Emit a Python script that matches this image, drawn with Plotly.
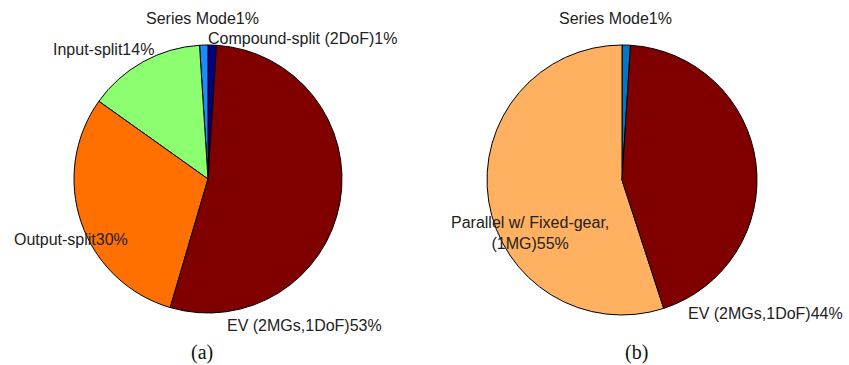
import plotly.graph_objects as go

W, H = 849, 365

# Mode shares, listed counterclockwise from 12 o'clock
modes_a = ["Compound-split (2DoF)", "Series Mode", "Input-split", "Output-split", "EV (2MGs,1DoF)"]
share_a = [1, 1, 14, 30, 53]
colors_a = ["#000088", "#1A8CFF", "#8CFF70", "#FF7000", "#800000"]

modes_b = ["Series Mode", "Parallel w/ Fixed-gear,<br>(1MG)", "EV (2MGs,1DoF)"]
share_b = [1, 55, 44]
colors_b = ["#0078C8", "#FFB060", "#800000"]

panel_titles = ["(a)", "(b)"]

# Label placement (pixel centers) for each slice
label_px_a = [(302, 38), (202, 18), (103, 49), (71, 239), (304, 325)]
label_px_b = [(615, 18), (530, 233), (765, 313)]
title_px = [(202, 352), (636, 352)]


def dom(cx, cy, r):
    return dict(x=[(cx - r) / W, (cx + r) / W], y=[(H - cy - r) / H, (H - cy + r) / H])


fig = go.Figure()
fig.add_trace(go.Pie(
    labels=modes_a, values=share_a, sort=False, direction="counterclockwise", rotation=0,
    marker=dict(colors=colors_a, line=dict(color="black", width=1)),
    textinfo="none", hoverinfo="label+percent", domain=dom(208, 179, 134), showlegend=False,
))
fig.add_trace(go.Pie(
    labels=modes_b, values=share_b, sort=False, direction="counterclockwise", rotation=0,
    marker=dict(colors=colors_b, line=dict(color="black", width=1)),
    textinfo="none", hoverinfo="label+percent", domain=dom(622, 180, 135), showlegend=False,
))

label_font = dict(family="Liberation Sans, Arial, sans-serif", size=16, color="#222222")
annotations = []
for names, vals, pos in [(modes_a, share_a, label_px_a), (modes_b, share_b, label_px_b)]:
    for name, v, (px, py) in zip(names, vals, pos):
        annotations.append(dict(
            text=f"{name}{v}%", x=px / W, y=1 - py / H, xref="paper", yref="paper",
            xanchor="center", yanchor="middle", showarrow=False, font=label_font,
        ))
for t, (px, py) in zip(panel_titles, title_px):
    annotations.append(dict(
        text=t, x=px / W, y=1 - py / H, xref="paper", yref="paper",
        xanchor="center", yanchor="middle", showarrow=False,
        font=dict(family="Liberation Serif, Times New Roman, serif", size=20, color="#111111"),
    ))

fig.update_layout(
    width=W, height=H, margin=dict(l=0, r=0, t=0, b=0),
    paper_bgcolor="white", plot_bgcolor="white", annotations=annotations,
)
fig.write_html("out.html")
